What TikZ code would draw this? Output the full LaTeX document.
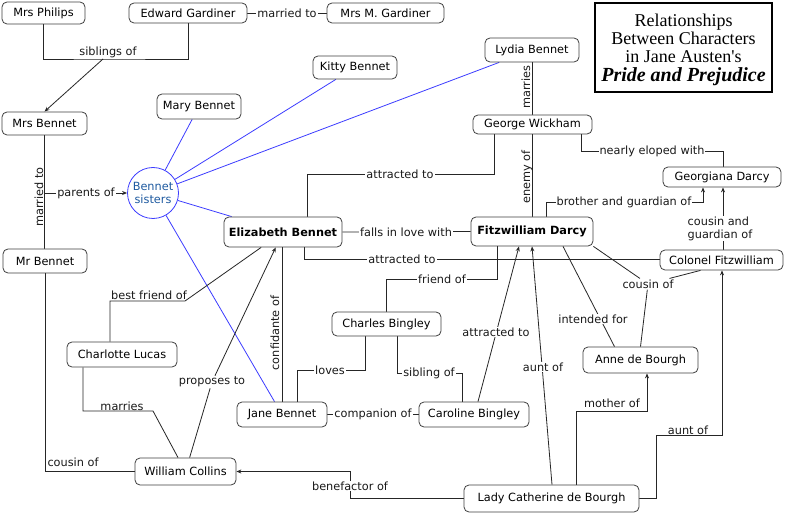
\documentclass[tikz,border=0pt]{standalone}
\usepackage{fontspec}
\setmainfont{DejaVu Sans}
\newfontfamily\titlefont{Liberation Serif}
\usetikzlibrary{arrows.meta,backgrounds,calc}
\definecolor{lineblue}{RGB}{60,60,255}
\definecolor{sistext}{RGB}{30,90,160}
\begin{document}
\begin{tikzpicture}[x=1pt,y=-1pt, font=\fontsize{11.3}{13}\selectfont,
 box/.style={draw=black!75, fill=white, rounded corners=5pt, line width=0.8pt, inner sep=0pt, align=center},
 lbl/.style={fill=white, inner sep=1pt, text=black!90},
 lblnf/.style={inner sep=1pt, text=black!90},
 conn/.style={draw=black!85, line width=0.8pt},
 arr/.style={-{Stealth[length=5pt,width=4pt]}},
 sisline/.style={draw=lineblue, line width=0.8pt}]
\useasboundingbox (0,0) rectangle (785,513);

% title
\node[draw, line width=2pt, minimum width=177pt, minimum height=89pt, inner sep=0pt] (titlebox) at (683.5,47.5) {};
\node[anchor=base, inner sep=0pt, font=\titlefont\fontsize{18}{20}\selectfont] (t1) at (683.5,27) {Relationships};
\node[anchor=base, inner sep=0pt, font=\titlefont\fontsize{18}{20}\selectfont] (t2) at (683.5,45) {Between Characters};
\node[anchor=base, inner sep=0pt, font=\titlefont\fontsize{18}{20}\selectfont] (t3) at (683.5,63) {in Jane Austen's};
\node[anchor=base, inner sep=0pt, font=\titlefont\bfseries\itshape\fontsize{20}{22}\selectfont] (t4) at (683.5,82) {Pride and Prejudice};

% boxes
\node[box, minimum width=83pt, minimum height=22pt] (philips) at (43.5,13) {Mrs Philips};
\node[box, minimum width=118pt, minimum height=20pt] (edward) at (188,13) {Edward Gardiner};
\node[box, minimum width=117pt, minimum height=20pt] (mrsm) at (385.5,13) {Mrs M. Gardiner};
\node[box, minimum width=85pt, minimum height=23pt] (mrsbennet) at (44.5,123.5) {Mrs Bennet};
\node[box, minimum width=84pt, minimum height=23pt] (kitty) at (355,67.5) {Kitty Bennet};
\node[box, minimum width=84pt, minimum height=25pt] (mary) at (199,106.5) {Mary Bennet};
\node[box, minimum width=94pt, minimum height=24pt] (lydia) at (532,50) {Lydia Bennet};
\node[box, minimum width=119pt, minimum height=19pt] (wickham) at (532.5,124.5) {George Wickham};
\node[circle, draw=lineblue, fill=white, line width=0.8pt, minimum size=51pt, inner sep=0pt, align=center, text=sistext, font=\fontsize{11.3}{13}\selectfont] (sis) at (153,193) {Bennet\\sisters};
\node[box, minimum width=118pt, minimum height=30pt, font=\bfseries\fontsize{11.3}{13}\selectfont] (eliz) at (283,232) {Elizabeth Bennet};
\node[box, minimum width=122pt, minimum height=29pt, font=\bfseries\fontsize{11.3}{13}\selectfont] (darcy) at (532,231.5) {Fitzwilliam Darcy};
\node[box, minimum width=118pt, minimum height=20pt] (georgiana) at (722,177) {Georgiana Darcy};
\node[box, minimum width=123pt, minimum height=20pt] (colonel) at (721.5,260) {Colonel Fitzwilliam};
\node[box, minimum width=84pt, minimum height=24pt] (mrbennet) at (45,261) {Mr Bennet};
\node[box, minimum width=110pt, minimum height=25pt] (charlotte) at (122,354.5) {Charlotte Lucas};
\node[box, minimum width=109pt, minimum height=24pt] (charles) at (386.5,324) {Charles Bingley};
\node[box, minimum width=90pt, minimum height=25pt] (jane) at (282,414.5) {Jane Bennet};
\node[box, minimum width=110pt, minimum height=25pt] (caroline) at (474,414.5) {Caroline Bingley};
\node[box, minimum width=115pt, minimum height=26pt] (anne) at (640.5,360) {Anne de Bourgh};
\node[box, minimum width=101pt, minimum height=27pt] (collins) at (185.5,471.5) {William Collins};
\node[box, minimum width=175pt, minimum height=27pt] (lady) at (551.5,498.5) {Lady Catherine de Bourgh};

% labels
\node[lbl] (l_marr1) at (287,13) {married to};
\node[lblnf] (l_sib) at (108,52) {siblings of};
\node[lblnf, rotate=90] (l_mb) at (39,197) {married to};
\node[lbl] (l_par) at (86,193) {parents of};
\node[lblnf] (l_cous1) at (73,462) {cousin of};
\node[lblnf, rotate=90] (l_marries1) at (526,87) {marries};
\node[lbl] (l_attr1) at (400,174) {attracted to};
\node[lblnf, rotate=90] (l_enemy) at (527,177) {enemy of};
\node[lbl] (l_elope) at (652,151) {nearly eloped with};
\node[lbl] (l_brother) at (624,202) {brother and guardian of};
\node[lbl, align=left] (l_cg) at (720,228.5) {cousin and\\guardian of};
\node[lbl] (l_falls) at (406,232) {falls in love with};
\node[lbl] (l_attr2) at (402,259) {attracted to};
\node[lbl] (l_friend) at (442,279) {friend of};
\node[lbl] (l_loves) at (330,370) {loves};
\node[lbl] (l_sibl) at (429,373) {sibling of};
\node[lbl] (l_comp) at (373,414.5) {companion of};
\node[lblnf, rotate=90] (l_conf) at (275,333) {confidante of};
\node[lblnf] (l_best) at (149,295) {best friend of};
\node[lblnf] (l_marries2) at (122,406) {marries};
\node[lbl] (l_prop) at (212,382) {proposes to};
\node[lbl] (l_attr3) at (496,332) {attracted to};
\node[lbl] (l_aunt1) at (543,367) {aunt of};
\node[lbl] (l_intended) at (593,319) {intended for};
\node[lbl] (l_cous2) at (648,284) {cousin of};
\node[lblnf] (l_mother) at (612,403) {mother of};
\node[lblnf] (l_aunt2) at (688,430) {aunt of};
\node[lbl] (l_bene) at (350,486) {benefactor of};

% bend points
\coordinate (sibl) at (103,59);
\coordinate (par) at (44.5,193);
\coordinate (c_w1) at (494,174);
\coordinate (c_w2) at (307,174);
\coordinate (c_e1) at (581,151);
\coordinate (c_e2) at (723,151);
\coordinate (c_br1) at (546,202);
\coordinate (c_br2) at (703,202);
\coordinate (c_ec) at (304,259);
\coordinate (c_f1) at (497,279);
\coordinate (c_f2) at (386.5,279);
\coordinate (c_l1) at (365,370);
\coordinate (c_l2) at (297,370);
\coordinate (c_s1) at (397,373);
\coordinate (c_s2) at (462,373);
\coordinate (c_b1) at (110,301);
\coordinate (c_b2) at (185,301);
\coordinate (c_m1) at (83,411);
\coordinate (c_m2) at (153,411);
\coordinate (c_mo1) at (576,411);
\coordinate (c_mo2) at (647,411);
\coordinate (c_a1) at (656,435);
\coordinate (c_a2) at (722,435);
\coordinate (c_bf) at (350,498);

\begin{scope}[on background layer]
\fill[white] (0,0) rectangle (785,513);
% blue sister lines
\draw[sisline] (sis) -- (mary);
\draw[sisline] (sis) -- (kitty);
\draw[sisline] (sis) -- (lydia);
\draw[sisline] (sis) -- (eliz);
\draw[sisline] (sis) -- (jane);
% family
\draw[conn] (philips.south) |- (sibl) -| (edward.south);
\draw[conn,arr] (sibl) -- (mrsbennet.north);
\draw[conn] (edward.east) -- (mrsm.west);
\draw[conn] (mrsbennet.south) -- (mrsbennet.south |- mrbennet.north);
\draw[conn,arr] (par) -- (sis);
\draw[conn] (mrbennet.south) |- (collins.west);
% Wickham
\draw[conn] (lydia.south -| wickham.north) -- (wickham.north);
\draw[conn] (c_w1 |- wickham.south) -- (c_w1) -- (c_w2) -- (c_w2 |- eliz.north);
\draw[conn] (wickham.south) -- (wickham.south |- darcy.north);
\draw[conn] (c_e1 |- wickham.south) -- (c_e1) -- (c_e2) -- (c_e2 |- georgiana.north);
% Darcy
\draw[conn,arr] (c_br1 |- darcy.north) -- (c_br1) -- (c_br2) -- (c_br2 |- georgiana.south);
\draw[conn,arr] ([xshift=1.5pt]colonel.north) -- ([xshift=1.5pt]colonel.north |- georgiana.south);
\draw[conn] (eliz.east) -- (darcy.west);
\draw[conn] (c_ec |- eliz.south) -- (c_ec) -- (c_ec -| colonel.west);
\draw[conn] (c_f1 |- darcy.south) -- (c_f1) -- (c_f2) -- (c_f2 |- charles.north);
\draw[conn] (c_l1 |- charles.south) -- (c_l1) -- (c_l2) -- (c_l2 |- jane.north);
\draw[conn] (c_s1 |- charles.south) -- (c_s1) -- (c_s2) -- (c_s2 |- caroline.north);
\draw[conn] (jane.east) -- (caroline.west);
\draw[conn] (jane.north) -- (jane.north |- eliz.south);
\draw[conn] (c_b1 |- charlotte.north) -- (c_b1) -- (c_b2) -- (eliz);
\draw[conn] (c_m1 |- charlotte.south) -- (c_m1) -- (c_m2) -- (collins);
\draw[conn] (collins) -- (l_prop);
\draw[conn,arr] (l_prop) -- (eliz);
\draw[conn,arr] ([xshift=4pt]caroline.north) -- ([xshift=-13pt]darcy.south);
\draw[conn,arr] ([xshift=0.5pt]lady.north) -- (darcy.south);
\draw[conn] ([xshift=31pt]darcy.south) -- ([xshift=-26pt]anne.north);
\draw[conn] (darcy.south east) -- (l_cous2);
\draw[conn] (anne.north) -- (l_cous2);
\draw[conn] (l_cous2) -- ([xshift=-21pt]colonel.south);
\draw[conn,arr] (c_mo1 |- lady.north) -- (c_mo1) -- (c_mo2) -- (c_mo2 |- anne.south);
\draw[conn,arr] (lady.east) -- (lady.east -| c_a1) -- (c_a1) -- (c_a2) -- (c_a2 |- colonel.south);
\draw[conn,arr] (lady.west) -- (lady.west -| c_bf) |- (collins.east);
\end{scope}
\end{tikzpicture}
\end{document}
